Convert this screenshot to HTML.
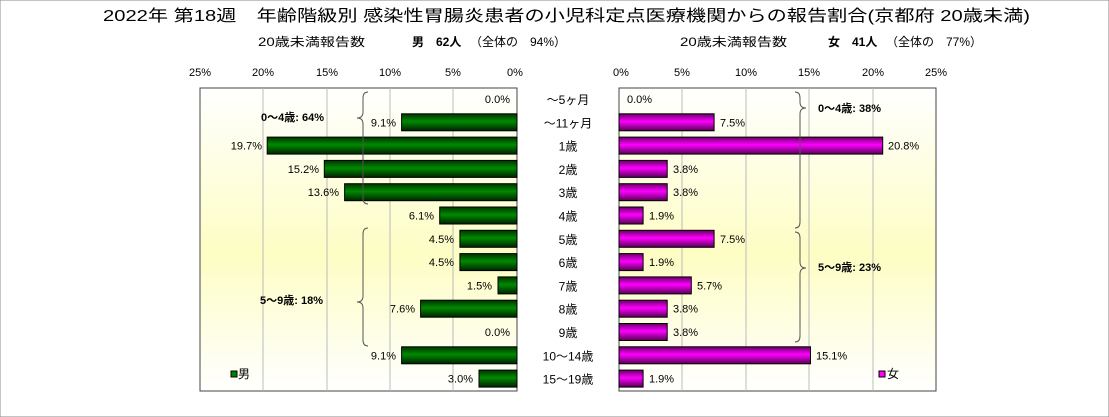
<!DOCTYPE html>
<html><head><meta charset="utf-8"><style>
body{margin:0;background:#fff}
svg{display:block;font-family:"Liberation Sans","Noto Sans CJK JP",sans-serif}
</style></head><body>
<svg width="1109" height="417" viewBox="0 0 1109 417">
<defs>
<linearGradient id="bg" x1="0" y1="0" x2="0" y2="1">
<stop offset="0" stop-color="#ffffff"/><stop offset="0.55" stop-color="#fdfdc4"/><stop offset="1" stop-color="#ffffff"/></linearGradient>
<linearGradient id="gr" x1="0" y1="0" x2="0" y2="1">
<stop offset="0" stop-color="#003300"/><stop offset="0.45" stop-color="#008a00"/><stop offset="1" stop-color="#002200"/></linearGradient>
<linearGradient id="mg" x1="0" y1="0" x2="0" y2="1">
<stop offset="0" stop-color="#660066"/><stop offset="0.45" stop-color="#ff00ff"/><stop offset="1" stop-color="#550055"/></linearGradient>
</defs>
<rect width="1109" height="417" fill="#fff" stroke="#888"/>
<text x="103" y="21" font-size="16" textLength="927" lengthAdjust="spacingAndGlyphs">2022年 第18週　年齢階級別 感染性胃腸炎患者の小児科定点医療機関からの報告割合(京都府 20歳未満)</text>
<g font-size="12">
<text x="258" y="46" textLength="107" lengthAdjust="spacingAndGlyphs">20歳未満報告数</text>
<text x="412" y="46" font-weight="bold">男　62人</text>
<text x="470" y="46">（全体の　94%）</text>
<text x="680" y="46" textLength="107" lengthAdjust="spacingAndGlyphs">20歳未満報告数</text>
<text x="828" y="46" font-weight="bold">女　41人</text>
<text x="886" y="46">（全体の　77%）</text>
</g>
<rect x="200" y="88" width="317" height="303" fill="url(#bg)" stroke="#444"/>
<rect x="619" y="88" width="317" height="303" fill="url(#bg)" stroke="#444"/>
<g stroke="#bbb">
<line x1="263" y1="88" x2="263" y2="391"/><line x1="327" y1="88" x2="327" y2="391"/><line x1="390" y1="88" x2="390" y2="391"/><line x1="453" y1="88" x2="453" y2="391"/>
<line x1="682" y1="88" x2="682" y2="391"/><line x1="746" y1="88" x2="746" y2="391"/><line x1="809" y1="88" x2="809" y2="391"/><line x1="873" y1="88" x2="873" y2="391"/>
</g>
<g font-size="11" text-anchor="middle">
<text x="200" y="76">25%</text><text x="263" y="76">20%</text><text x="327" y="76">15%</text><text x="390" y="76">10%</text><text x="453" y="76">5%</text><text x="515" y="76">0%</text>
<text x="621" y="76">0%</text><text x="682" y="76">5%</text><text x="746" y="76">10%</text><text x="809" y="76">15%</text><text x="873" y="76">20%</text><text x="936" y="76">25%</text>
</g>
<g stroke="#000">
<rect x="401.6" y="113.8" width="115.4" height="17" fill="url(#gr)"/>
<rect x="267.2" y="137.1" width="249.8" height="17" fill="url(#gr)"/>
<rect x="324.3" y="160.4" width="192.7" height="17" fill="url(#gr)"/>
<rect x="344.6" y="183.7" width="172.4" height="17" fill="url(#gr)"/>
<rect x="439.7" y="207" width="77.3" height="17" fill="url(#gr)"/>
<rect x="459.9" y="230.3" width="57.1" height="17" fill="url(#gr)"/>
<rect x="459.9" y="253.6" width="57.1" height="17" fill="url(#gr)"/>
<rect x="498" y="276.9" width="19" height="17" fill="url(#gr)"/>
<rect x="420.6" y="300.2" width="96.4" height="17" fill="url(#gr)"/>
<rect x="401.6" y="346.8" width="115.4" height="17" fill="url(#gr)"/>
<rect x="479" y="370.1" width="38" height="17" fill="url(#gr)"/>

<rect x="619" y="113.8" width="95.1" height="17" fill="url(#mg)"/>
<rect x="619" y="137.1" width="263.7" height="17" fill="url(#mg)"/>
<rect x="619" y="160.4" width="48.2" height="17" fill="url(#mg)"/>
<rect x="619" y="183.7" width="48.2" height="17" fill="url(#mg)"/>
<rect x="619" y="207" width="24.1" height="17" fill="url(#mg)"/>
<rect x="619" y="230.3" width="95.1" height="17" fill="url(#mg)"/>
<rect x="619" y="253.6" width="24.1" height="17" fill="url(#mg)"/>
<rect x="619" y="276.9" width="72.3" height="17" fill="url(#mg)"/>
<rect x="619" y="300.2" width="48.2" height="17" fill="url(#mg)"/>
<rect x="619" y="323.5" width="48.2" height="17" fill="url(#mg)"/>
<rect x="619" y="346.8" width="191.5" height="17" fill="url(#mg)"/>
<rect x="619" y="370.1" width="24.1" height="17" fill="url(#mg)"/>
</g>
<g font-size="11" text-anchor="end">
<text x="510" y="103">0.0%</text>
<text x="396" y="126.3">9.1%</text>
<text x="262" y="149.6">19.7%</text>
<text x="319" y="172.9">15.2%</text>
<text x="339" y="196.2">13.6%</text>
<text x="434" y="219.5">6.1%</text>
<text x="454" y="242.8">4.5%</text>
<text x="454" y="266.1">4.5%</text>
<text x="492" y="289.4">1.5%</text>
<text x="415" y="312.7">7.6%</text>
<text x="510" y="336">0.0%</text>
<text x="396" y="359.3">9.1%</text>
<text x="473" y="382.6">3.0%</text>
</g>
<g font-size="11">
<text x="627" y="103">0.0%</text>
<text x="720" y="126.3">7.5%</text>
<text x="888" y="149.6">20.8%</text>
<text x="673" y="172.9">3.8%</text>
<text x="673" y="196.2">3.8%</text>
<text x="649" y="219.5">1.9%</text>
<text x="720" y="242.8">7.5%</text>
<text x="649" y="266.1">1.9%</text>
<text x="697" y="289.4">5.7%</text>
<text x="673" y="312.7">3.8%</text>
<text x="673" y="336">3.8%</text>
<text x="816" y="359.3">15.1%</text>
<text x="649" y="382.6">1.9%</text>
</g>
<g font-size="12" text-anchor="middle">
<text x="568" y="104">～5ヶ月</text>
<text x="568" y="127.3">～11ヶ月</text>
<text x="568" y="150.6">1歳</text>
<text x="568" y="173.9">2歳</text>
<text x="568" y="197.2">3歳</text>
<text x="568" y="220.5">4歳</text>
<text x="568" y="243.8">5歳</text>
<text x="568" y="267.1">6歳</text>
<text x="568" y="290.4">7歳</text>
<text x="568" y="313.7">8歳</text>
<text x="568" y="337">9歳</text>
<text x="568" y="360.3">10～14歳</text>
<text x="568" y="383.6">15～19歳</text>
</g>
<g fill="none" stroke="#555" stroke-width="1">
<path d="M368,92 q-5,0 -5,6 v14 q0,6 -6,6 q6,0 6,6 v74 q0,6 5,6"/>
<path d="M368,228 q-5,0 -5,6 v62 q0,6 -6,6 q6,0 6,6 v32 q0,6 5,6"/>
<path d="M795,92 q5,0 5,6 v4 q0,6 6,6 q-6,0 -6,6 v108 q0,6 -5,6"/>
<path d="M795,232 q5,0 5,6 v24 q0,6 6,6 q-6,0 -6,6 v62 q0,6 -5,6"/>
</g>
<g font-size="11" font-weight="bold">
<text x="261" y="121">0～4歳: 64%</text>
<text x="260" y="304">5～9歳: 18%</text>
<text x="818" y="112">0～4歳: 38%</text>
<text x="818" y="271">5～9歳: 23%</text>
</g>
<rect x="231" y="371" width="6" height="6" fill="#008000" stroke="#000"/><text x="238" y="378" font-size="12">男</text>
<rect x="879" y="371" width="6" height="6" fill="#ff00ff" stroke="#000"/><text x="887" y="378" font-size="12">女</text>
</svg>
</body></html>
